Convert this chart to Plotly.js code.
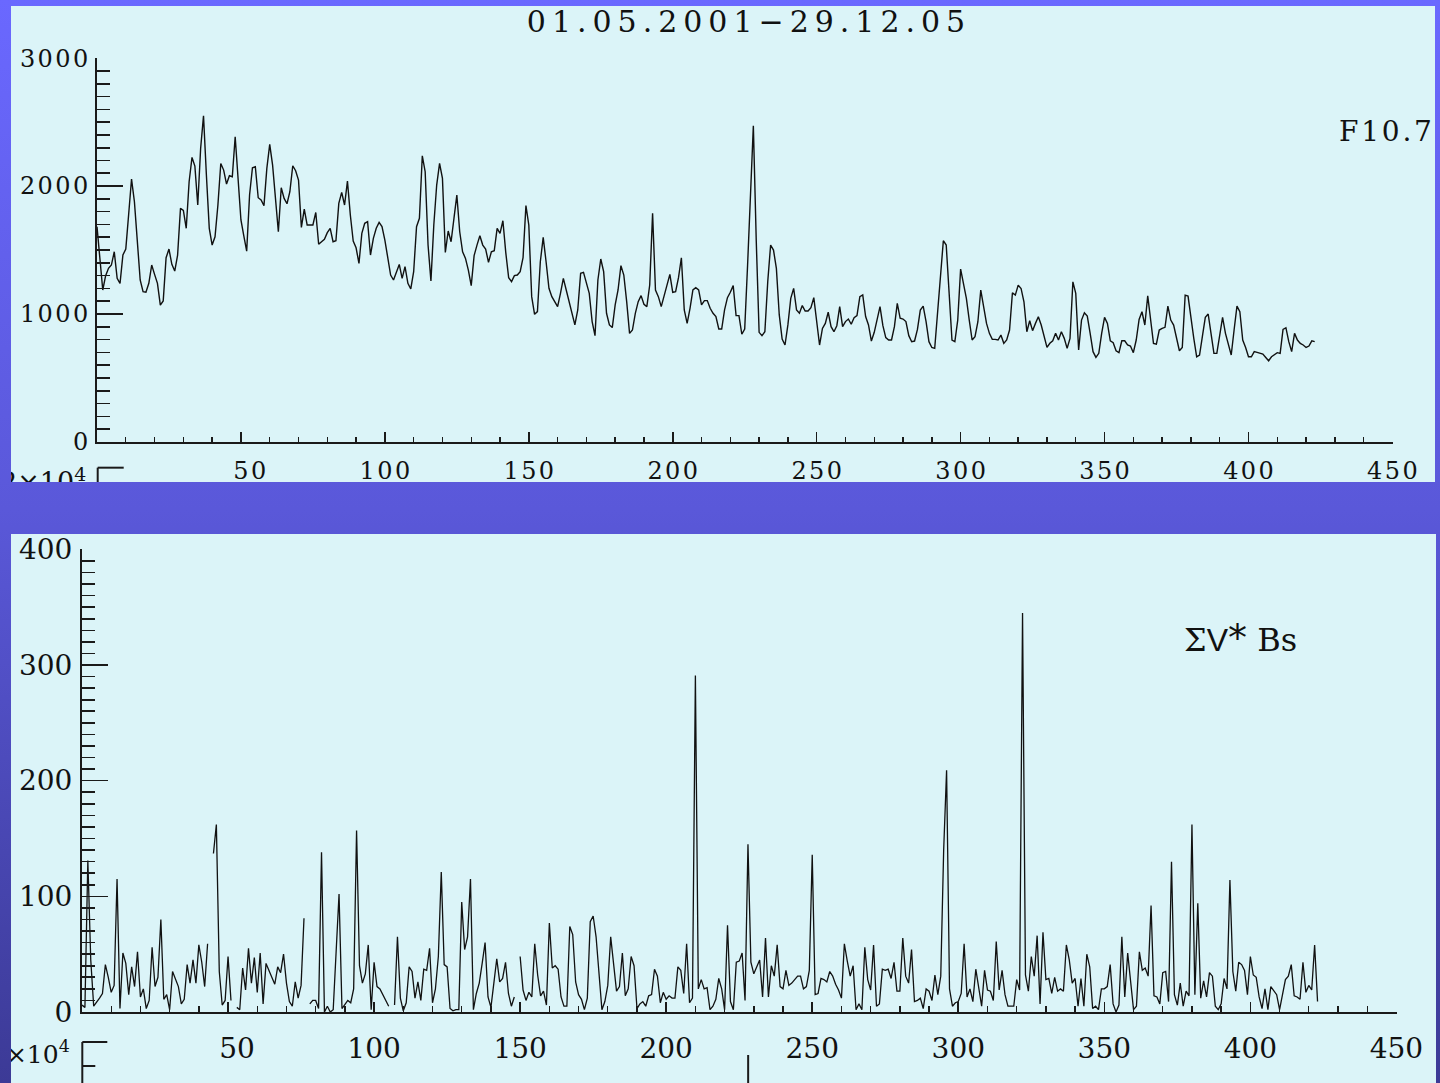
<!DOCTYPE html>
<html>
<head>
<meta charset="utf-8">
<script src="https://cdn.plot.ly/plotly-3.0.1.min.js"></script>
<style>
  html, body { margin: 0; padding: 0; width: 1440px; height: 1083px; overflow: hidden; }
  body { position: relative; background: linear-gradient(to bottom, #6a68ff 0%, #5a58d9 47%, #3c3a96 100%); }
  .panel { position: absolute; background: #dbf4f8; overflow: hidden; }
  #top { left: 11px; top: 6px; width: 1424px; height: 476px; }
  #bottom { left: 11px; top: 534px; width: 1425px; height: 549px; }
</style>
</head>
<body>
<div id="top" class="panel"><div id="chartTop"></div></div>
<div id="bottom" class="panel"><div id="chartBottom"></div></div>
<script>
// Daily solar radio flux F10.7 (x10^4 scale), 01.05.2001 - 29.12.05, 424 samples
const f107 = [
  1683,1450,1188,1300,1357,1383,1487,1279,1240,1461,1508,1780,2055,1878,1570,1266,1175,1170,1240,1383,
  1310,1240,1070,1102,1440,1508,1388,1336,1461,1826,1810,1670,2034,2224,2156,1852,2294,2550,2086,1670,
  1539,1604,1852,2177,2125,2016,2081,2073,2386,2060,1735,1610,1492,1930,2143,2151,1909,1891,1847,2138,
  2326,2164,1904,1643,1987,1904,1862,1956,2159,2120,2047,1677,1820,1696,1696,1696,1794,1545,1565,1584,
  1636,1670,1565,1573,1865,1951,1852,2039,1774,1571,1518,1396,1630,1709,1722,1461,1591,1670,1716,1683,
  1578,1448,1305,1266,1331,1388,1279,1370,1240,1196,1331,1683,1748,2237,2112,1539,1258,1696,2008,2177,
  2060,1482,1649,1565,1748,1930,1643,1487,1435,1344,1222,1456,1539,1612,1539,1508,1404,1487,1495,1670,
  1630,1729,1480,1284,1253,1300,1305,1331,1440,1847,1696,1136,998,1019,1409,1599,1409,1201,1136,1092,
  1058,1162,1279,1188,1097,1019,915,1032,1318,1326,1253,1162,941,831,1266,1430,1331,1006,915,894,
  1071,1188,1378,1305,1097,849,875,1006,1097,1144,1076,1058,1227,1787,1188,1136,1058,1136,1214,1310,
  1170,1175,1284,1440,1032,927,1045,1188,1206,1188,1071,1105,1105,1045,1006,980,883,883,1032,1128,
  1170,1222,988,988,842,883,1383,1956,2472,1578,857,831,862,1253,1539,1500,1357,993,805,758,
  915,1123,1201,1032,1006,1066,1024,1024,1050,1128,935,758,888,927,1014,901,862,909,1058,901,
  941,961,920,972,988,1136,1149,980,915,789,857,967,1058,909,816,797,797,901,1084,967,
  961,941,831,784,789,880,1031,1062,940,784,739,732,1005,1343,1573,1539,1174,797,784,953,
  1351,1239,1122,953,797,823,940,1187,1057,927,849,802,802,797,836,771,797,875,1166,1148,
  1226,1200,1096,862,948,870,927,979,914,817,739,771,791,849,797,862,810,732,810,1252,
  1161,719,953,1010,984,849,706,661,693,849,974,927,791,776,713,698,791,791,758,750,
  698,797,958,1018,914,1143,953,771,765,875,888,896,1062,953,914,810,713,739,1148,1140,
  953,810,666,680,828,974,1000,828,693,693,854,974,849,771,680,875,1062,1018,797,739,
  666,666,706,700,693,687,661,635,666,680,698,693,880,893,784,706,849,797,771,758,
  739,750,791,784
];

// Summed V*Bs (x10^4 scale); null marks days with no solar-wind data
const vbs = [
  6,4,131,45,5,8,12,16,41,30,17,23,115,3,51,42,15,39,22,52,
  13,20,3,10,56,22,30,80,11,15,2,35,29,22,7,11,41,25,45,25,
  58,43,22,59,null,137,162,35,6,10,48,10,null,4,2,38,19,55,25,47,
  17,51,7,42,36,30,24,39,34,50,25,9,5,26,12,23,81,null,7,10,
  10,3,138,0,5,0,2,59,102,3,6,10,8,20,157,40,25,33,58,2,
  43,22,20,15,9,5,null,6,65,12,1,8,39,35,12,26,10,37,36,55,
  8,20,48,121,41,39,3,1,2,2,95,54,65,115,2,16,25,42,60,13,
  4,25,46,26,29,43,16,5,13,null,48,19,10,17,13,59,32,14,18,6,
  77,38,40,37,13,5,5,74,67,26,15,11,2,12,78,83,65,33,2,9,
  23,65,42,18,22,51,14,20,48,40,3,7,9,5,14,15,37,31,8,17,
  11,14,12,12,39,36,16,59,8,12,291,20,28,20,21,2,5,11,29,20,
  2,75,9,2,43,44,51,10,145,43,33,39,45,13,64,13,40,31,58,22,
  20,36,23,25,28,31,31,20,22,36,136,15,16,29,28,26,35,31,24,19,
  12,59,44,31,40,2,7,2,56,28,19,58,5,7,37,36,37,29,43,18,
  18,64,31,25,54,9,10,12,3,20,18,10,32,15,31,140,209,20,5,8,
  9,16,59,13,20,9,37,20,5,36,19,18,10,61,19,36,15,5,5,5,
  28,19,345,32,18,48,31,66,7,69,28,29,16,30,18,20,18,58,45,25,
  29,5,29,5,50,39,3,5,2,20,20,22,41,7,0,6,65,13,51,25,
  2,5,52,36,38,31,92,14,13,7,34,35,9,130,15,6,25,5,18,14,
  162,15,94,12,27,13,34,31,5,2,7,29,20,114,35,18,43,41,36,15,
  48,32,30,13,3,20,2,22,18,15,2,15,28,31,41,14,13,11,43,17,
  23,19,58,9
];

const xTickVals = [50, 100, 150, 200, 250, 300, 350, 400, 450];
const topYTickVals = [0, 1000, 2000, 3000];
const bottomYTickVals = [0, 100, 200, 300, 400];
const titleText = '01.05.2001\u221229.12.05';
const topLabel = 'F10.7';

const THIN = '\u2009', HAIR = '\u200a', FIG = '\u2007';
const spaced = (s, sep) => s.split('').join(sep || HAIR);
const padded = v => String(v).padStart(3, FIG);

const days = f107.map((_, i) => i);
const FONT = 'DejaVu Serif';
const INK = '#1a1a1a';

// pixel (relative to chart) -> paper coordinates
function paperOf(m, W, H) {
  const pw = W - m.l - m.r, ph = H - m.t - m.b;
  return (x, y) => [(x - m.l) / pw, (H - m.b - y) / ph];
}

function axisBase(extra) {
  return Object.assign({
    showline: true, linecolor: INK, linewidth: 2,
    ticks: 'inside', tickcolor: INK, tickwidth: 1.6,
    showgrid: false, zeroline: false, fixedrange: true,
    tickmode: 'array', ticklabeloverflow: 'allow'
  }, extra);
}

function line(p, x0, y0, x1, y1, w) {
  const a = p(x0, y0), b = p(x1, y1);
  return { type: 'line', xref: 'paper', yref: 'paper', x0: a[0], y0: a[1], x1: b[0], y1: b[1],
           line: { color: INK, width: w || 2 } };
}

// ---------- upper panel: F10.7 ----------
const W1 = 1424, H1 = 520;
const m1 = { l: 86.3, r: W1 - 1382.3, t: 52, b: H1 - 436.3, pad: 0 };
const p1 = paperOf(m1, W1, H1);

const layoutTop = {
  width: W1, height: H1, margin: m1,
  paper_bgcolor: 'rgba(0,0,0,0)', plot_bgcolor: 'rgba(0,0,0,0)',
  showlegend: false,
  title: { text: spaced(titleText, THIN), font: { family: FONT, size: 30, color: '#111' },
           xref: 'container', yref: 'container', x: 735 / W1, y: 1 - 15 / H1,
           xanchor: 'center', yanchor: 'middle' },
  xaxis: axisBase({ range: [0, 450.2], tickvals: xTickVals, ticktext: xTickVals.map(v => spaced(padded(v))),
    ticklen: 10, ticklabelstandoff: 6,
    tickfont: { family: FONT, size: 24, color: '#111' },
    minor: { tickmode: 'linear', tick0: 0, dtick: 10, ticks: 'inside', ticklen: 5, tickwidth: 1.4, tickcolor: INK, showgrid: false } }),
  yaxis: axisBase({ range: [0, 3001], tickvals: topYTickVals, ticktext: topYTickVals.map(v => spaced(String(v))),
    ticklen: 26, ticklabelstandoff: 2,
    tickfont: { family: FONT, size: 24, color: '#111' },
    minor: { tickmode: 'linear', tick0: 0, dtick: 100, ticks: 'inside', ticklen: 13, tickwidth: 1.6, tickcolor: INK, showgrid: false } }),
  annotations: [
    { xref: 'paper', yref: 'paper', x: p1(1423, 126)[0], y: p1(1423, 126)[1], xanchor: 'right', yanchor: 'middle',
      text: spaced(topLabel), showarrow: false, font: { family: FONT, size: 28, color: '#111' } },
    { xref: 'paper', yref: 'paper', x: p1(77, 455)[0], y: p1(77, 455)[1], xanchor: 'right', yanchor: 'top',
      text: '2\u00d710<sup>4</sup>', showarrow: false, font: { family: FONT, size: 27, color: '#111' } }
  ],
  shapes: [
    line(p1, 87, 462, 113, 462, 2),
    line(p1, 87, 462, 87, 520, 2)
  ]
};

Plotly.newPlot('chartTop', [{
  type: 'scatter', mode: 'lines', x: days, y: f107,
  line: { color: '#111', width: 1.4 }, hoverinfo: 'skip'
}], layoutTop, { staticPlot: true, displayModeBar: false });

// ---------- lower panel: sum V*Bs ----------
const W2 = 1425, H2 = 600;
const m2 = { l: 70.7, r: W2 - 1386, t: 15, b: H2 - 478, pad: 0 };
const p2 = paperOf(m2, W2, H2);

const layoutBottom = {
  width: W2, height: H2, margin: m2,
  paper_bgcolor: 'rgba(0,0,0,0)', plot_bgcolor: 'rgba(0,0,0,0)',
  showlegend: false,
  xaxis: axisBase({ range: [0, 450.2], tickvals: xTickVals, ticktext: xTickVals.map(padded),
    ticklen: 10, ticklabelstandoff: 10,
    tickfont: { family: FONT, size: 28, color: '#111' },
    minor: { tickmode: 'linear', tick0: 0, dtick: 10, ticks: 'inside', ticklen: 6, tickwidth: 1.4, tickcolor: INK, showgrid: false } }),
  yaxis: axisBase({ range: [0, 400.3], tickvals: bottomYTickVals, ticktext: bottomYTickVals.map(String),
    ticklen: 26, ticklabelstandoff: 2,
    tickfont: { family: FONT, size: 28, color: '#111' },
    minor: { tickmode: 'linear', tick0: 0, dtick: 10, ticks: 'inside', ticklen: 13, tickwidth: 1.6, tickcolor: INK, showgrid: false } }),
  annotations: [
    { xref: 'paper', yref: 'paper', x: p2(1171, 104)[0], y: p2(1171, 104)[1], xanchor: 'left', yanchor: 'middle',
      text: '\u03a3<span style="font-family:Liberation Sans">V</span><span style="font-family:DejaVu Sans;font-size:38px">*</span> Bs',
      showarrow: false, font: { family: FONT, size: 32, color: '#111' } },
    { xref: 'paper', yref: 'paper', x: p2(61, 500)[0], y: p2(61, 500)[1], xanchor: 'right', yanchor: 'top',
      text: '2\u00d710<sup>4</sup>', showarrow: false, font: { family: FONT, size: 25, color: '#111' } }
  ],
  shapes: [
    line(p2, 71, 508, 96, 508, 2),
    line(p2, 71, 532, 84, 532, 2),
    line(p2, 71, 508, 71, 600, 2),
    line(p2, 737, 521, 737, 600, 2)
  ]
};

Plotly.newPlot('chartBottom', [{
  type: 'scatter', mode: 'lines', x: days, y: vbs, connectgaps: false,
  line: { color: '#111', width: 1.3 }, hoverinfo: 'skip'
}], layoutBottom, { staticPlot: true, displayModeBar: false });
</script>
</body>
</html>
